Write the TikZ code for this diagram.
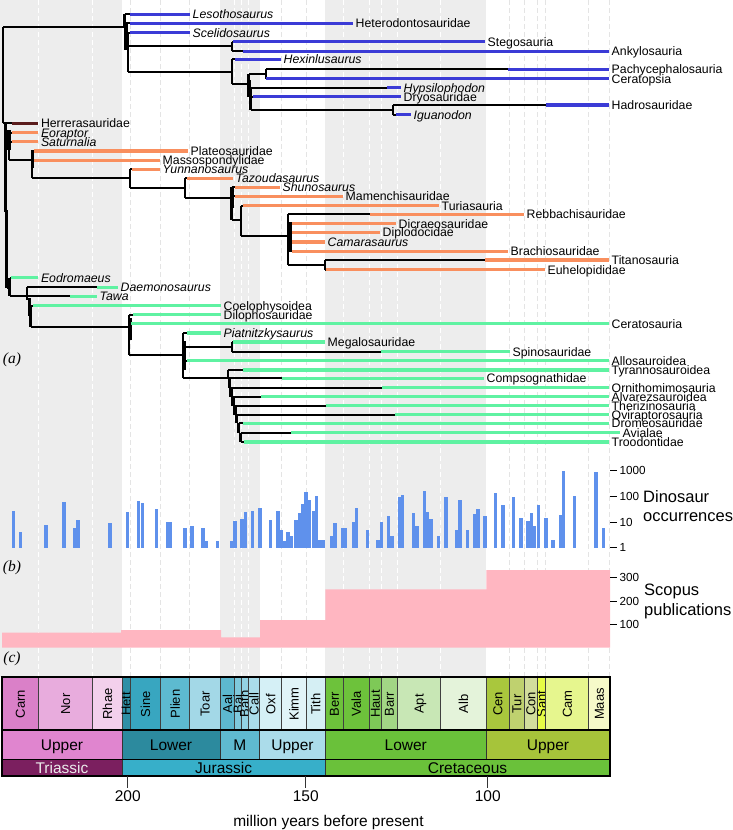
\documentclass[tikz,border=0pt]{standalone}
\usepackage{fontspec}
\setmainfont{Liberation Sans}
\newfontfamily\panelfont{Liberation Serif}
\definecolor{ornc}{HTML}{3B3BD6}
\definecolor{sauc}{HTML}{F98F5E}
\definecolor{herc}{HTML}{5A1C1C}
\definecolor{thec}{HTML}{5FF2A2}
\definecolor{barc}{HTML}{5F91EC}
\definecolor{pubc}{HTML}{FFB6C1}
\definecolor{bgg}{HTML}{EDEDED}
\definecolor{dashg}{HTML}{E4E4E4}
\tikzset{
  blk/.style={line width=2.2pt, black},
  thk/.style={line width=3.2pt, black},
  lab/.style={anchor=west, inner xsep=2.5pt, inner ysep=0pt, text height=8.8pt, text depth=0pt, font=\fontsize{12.3}{14}\selectfont},
  stglab/.style={rotate=90, inner sep=0pt, text height=9.3pt, text depth=0pt, font=\fontsize{13}{14}\selectfont},
  serlab/.style={inner sep=0pt, text height=11pt, text depth=0pt, font=\fontsize{15.5}{17}\selectfont},
  ticklab/.style={anchor=west, inner sep=0pt, font=\fontsize{11.7}{13}\selectfont},
  axlab/.style={inner sep=0pt, font=\fontsize{15.5}{17}\selectfont},
  bigl/.style={anchor=west, inner sep=0pt, font=\fontsize{16.5}{18}\selectfont},
  panl/.style={inner sep=0pt, font=\panelfont\itshape\fontsize{15.5}{17}\selectfont},
  gdash/.style={white, line width=0.7pt, dash pattern=on 5pt off 3pt},
  wdash/.style={dashg, line width=0.7pt, dash pattern=on 5pt off 3pt},
}
% tip: name, y, x start (black), x colour start, x end, colour, text
\newcommand\dtip[7]{%
  \draw[blk] (#3,#2) -- (#4,#2);
  \draw[line width=3.2pt, #6] (#4,#2) -- (#5,#2);
  \node[lab] (#1) at (#5,#2) {#7};
}
% stage: name, x0, x1, colour (HTML), text
\newcommand\stg[5]{%
  \definecolor{cellc}{HTML}{#4}%
  \filldraw[fill=cellc, draw=black!75, line width=0.6pt] (#2,676.7) rectangle (#3,730);
  \node[stglab] (#1) at ({(#2+#3)/2},704) {#5};
}
% box: name, x0, x1, y0, y1, colour (HTML), text
\newcommand\tsbox[7]{%
  \definecolor{cellc}{HTML}{#6}%
  \filldraw[fill=cellc, draw=black!80, line width=0.9pt] (#2,#4) rectangle (#3,#5);
  \node[serlab] (#1) at ({(#2+#3)/2},{(#4+#5)/2}) {#7};
}
\begin{document}
\begin{tikzpicture}[x=1pt,y=-1pt]
\useasboundingbox (0,0) rectangle (733,830);
% background bands
\fill[bgg] (0,0) rectangle (122,676.7);
\fill[bgg] (220,0) rectangle (259.7,676.7);
\fill[bgg] (325.3,0) rectangle (486.3,676.7);
\foreach \x in {38.3,92.7,234.7,241,248,343,369.3,381.3,397.3,440.7}
  \draw[gdash] (\x,0) -- (\x,676.7);
\foreach \x in {130,160.7,189.7,281.7,306,509.3,524.3,537,545.7,588.7,609.7}
  \draw[wdash] (\x,0) -- (\x,676.7);

% ---------- (b) occurrences ----------
\foreach \x/\t in {12.0/511, 19.0/532.3, 44.3/525, 62.3/502.3, 72.7/528, 76.3/520.3, 108.3/523.3, 126.0/512.3, 137.0/501, 140.7/502.7, 155.0/509.3, 165.7/522, 169.0/522, 183.3/527.7, 190.3/526.3, 201.3/528.3, 204.7/540.7, 215.7/540.7, 230/540.7, 233.3/521, 240.3/519.3, 243.7/512.3, 251/510.7, 258.3/508.3, 269/520, 276.3/510.7, 279.7/530, 283/540.7, 286.3/532.3, 289.7/536, 294.3/520, 297.7/513, 301/504.3, 304.3/492.3, 307.7/500, 311.7/511.3, 315/495.7, 318.3/540.3, 321.7/540.3, 330/535.7, 333.3/523.3, 340.7/528.3, 344/528.3, 351.7/522.3, 355/508, 365.7/530, 376.3/540.3, 379.7/522.3, 387/515.7, 390.3/536, 397.7/497.3, 401/495, 412/513.3, 415.3/526, 422.7/491, 426/511.7, 429.3/519.3, 437/535.7, 444.3/496.7, 455/530, 458.3/500.3, 465.7/530, 473/514, 476.3/508.7, 483.3/516, 494/493, 501.3/504.7, 512/497, 519.3/518.3, 526.3/521, 529.7/513, 533/526, 537/504.7, 544.3/517.7, 551.3/540.3, 558.7/514.7, 562/471, 573/496.3, 594.3/471.7, 601.7/528}
  \fill[barc] (\x,547.7) rectangle (\x+3.2,\t);
\foreach \y/\v/\n in {470/1000/ta, 496.7/100/tb, 522.3/10/tc, 547.7/1/td} {
  \draw[black, line width=0.8pt] (610,\y) -- (617,\y);
  \node[ticklab] (occ\n) at (619.5,\y) {\v};
}
\node[bigl] (dino1) at (643,496.7) {Dinosaur};
\node[bigl] (dino2) at (643,516.7) {occurrences};

% ---------- (c) publications ----------
\fill[pubc] (2,647.7) -- (2,632.7) -- (121,632.7) -- (121,630) -- (221,630) -- (221,637.3) -- (260,637.3) -- (260,620) -- (325.3,620) -- (325.3,589.3) -- (486.3,589.3) -- (486.3,570) -- (610,570) -- (610,647.7) -- cycle;
\foreach \y/\v/\n in {577.7/300/pa, 601.7/200/pb, 624.3/100/pc} {
  \draw[black, line width=0.8pt] (610,\y) -- (617,\y);
  \node[ticklab] (pub\n) at (619.5,\y) {\v};
}
\node[bigl] (scop1) at (644,591.7) {Scopus};
\node[bigl] (scop2) at (644,611.7) {publications};

% panel labels
\node[panl] (pa) at (12,360) {(a)};
\node[panl] (pb) at (12,568) {(b)};
\node[panl] (pc) at (12,659) {(c)};

% ---------- (a) tree: Ornithischia ----------
\draw[blk] (3,26.7) -- (124.5,26.7);
\draw[blk] (124.5,14.3) -- (124.5,26.7);
\draw[thk] (126,22) -- (126,50);
\draw[blk] (128,32.7) -- (128,71.7);
\draw[blk] (128,45.7) -- (232,45.7);
\draw[blk] (232,41.7) -- (232,51.3);
\draw[blk] (128,71.7) -- (232,71.7);
\draw[blk] (232,59.3) -- (232,84.3);
\draw[blk] (232,84.3) -- (248.5,84.3);
\draw[blk] (248.5,74.3) -- (248.5,96.7);
\draw[thk] (249.5,80) -- (249.5,97);
\draw[blk] (248.5,74.3) -- (266,74.3);
\draw[blk] (266,69.3) -- (266,78.7);
\draw[blk] (250.5,87.7) -- (250.5,110);
\draw[blk] (250.5,110) -- (393,110);
\draw[blk] (393,105) -- (393,114.7);
\dtip{lesotho}{14.3}{124.5}{130}{190}{ornc}{\itshape Lesothosaurus}
\dtip{hetero}{23.3}{124.5}{130}{353}{ornc}{Heterodontosauridae}
\dtip{scelido}{32.7}{126}{130}{190}{ornc}{\itshape Scelidosaurus}
\dtip{stego}{41.7}{232}{233}{485}{ornc}{Stegosauria}
\dtip{ankylo}{51.3}{232}{243}{609}{ornc}{Ankylosauria}
\dtip{hexin}{59.3}{232}{235}{281}{ornc}{\itshape Hexinlusaurus}
\dtip{pachy}{69.3}{266}{508}{609}{ornc}{Pachycephalosauria}
\dtip{ceratop}{78.7}{266}{266}{609}{ornc}{Ceratopsia}
\dtip{hypsi}{87.7}{250.5}{387}{401}{ornc}{\itshape Hypsilophodon}
\dtip{dryo}{96.7}{250.5}{253}{401}{ornc}{Dryosauridae}
\dtip{hadro}{105}{393}{546}{609}{ornc}{Hadrosauridae}
\dtip{iguano}{114.7}{393}{396}{411}{ornc}{\itshape Iguanodon}

% ---------- Saurischia trunk and Sauropodomorpha ----------
\draw[blk] (3,26.7) -- (3,123.3);
\draw[blk] (3,123.3) -- (5.5,123.3);
\draw[thk] (5.5,123.3) -- (5.5,212);
\draw[blk] (6.5,210) -- (6.5,288);
\draw[thk] (9,130) -- (9,150);
\draw[blk] (9,132.7) -- (9,160);
\draw[blk] (5.5,140) -- (9,140);
\dtip{herrera}{123.3}{3}{11.7}{38.3}{herc}{Herrerasauridae}
\dtip{eorap}{132.7}{9}{11.7}{38.3}{sauc}{\itshape Eoraptor}
\dtip{saturn}{141.7}{9}{11.7}{38.3}{sauc}{\itshape Saturnalia}
\draw[blk] (9,160) -- (31.7,160);
\draw[blk] (31.7,150.7) -- (31.7,178.3);
\draw[thk] (32.5,150) -- (32.5,168);
\dtip{plateo}{151}{31.7}{34}{188}{sauc}{Plateosauridae}
\dtip{massos}{160.3}{31.7}{34}{160}{sauc}{Massospondylidae}
\draw[blk] (31.7,178.3) -- (130,178.3);
\draw[blk] (130,169.3) -- (130,188.3);
\dtip{yunnan}{169.3}{130}{132}{160}{sauc}{\itshape Yunnanosaurus}
\draw[blk] (130,188.3) -- (185,188.3);
\draw[blk] (185,178.3) -- (185,198);
\dtip{tazou}{178.3}{185}{187}{233}{sauc}{\itshape Tazoudasaurus}
\draw[blk] (185,198) -- (231.5,198);
\draw[blk] (231.5,187.3) -- (231.5,220);
\draw[thk] (232.5,188) -- (232.5,208);
\dtip{shuno}{187.3}{231.5}{235}{280}{sauc}{\itshape Shunosaurus}
\dtip{mamen}{196.3}{231.5}{235}{343}{sauc}{Mamenchisauridae}
\draw[blk] (231.5,220) -- (241.3,220);
\draw[blk] (241.3,205.7) -- (241.3,236);
\dtip{turia}{205.7}{241.3}{243}{439}{sauc}{Turiasauria}
\draw[blk] (241.3,236) -- (288.3,236);
\draw[blk] (288.3,214.3) -- (288.3,265);
\draw[thk] (290,222) -- (290,252);
\dtip{rebba}{214.3}{288.3}{370}{524}{sauc}{Rebbachisauridae}
\dtip{dicra}{223.7}{288.3}{292}{396}{sauc}{Dicraeosauridae}
\dtip{diplo}{232.3}{288.3}{292}{380}{sauc}{Diplodocidae}
\dtip{camara}{242}{288.3}{292}{325}{sauc}{\itshape Camarasaurus}
\dtip{brachio}{251.3}{288.3}{292}{508}{sauc}{Brachiosauridae}
\draw[blk] (288.3,265) -- (325,265);
\draw[blk] (325,260) -- (325,269.7);
\dtip{titano}{260}{325}{485}{609}{sauc}{Titanosauria}
\dtip{euhelo}{269.7}{325}{326}{545}{sauc}{Euhelopididae}

% ---------- Theropoda ----------
\draw[blk] (6.5,288) -- (9.5,288);
\draw[blk] (9.5,277.7) -- (9.5,296.3);
\draw[blk] (27,287.3) -- (27,300);
\draw[thk] (29.5,298) -- (29.5,316);
\draw[blk] (30.5,305.7) -- (30.5,327.3);
\dtip{eodro}{277.7}{9.5}{11}{38.3}{thec}{\itshape Eodromaeus}
\dtip{daemo}{287.3}{27}{97}{118}{thec}{\itshape Daemonosaurus}
\dtip{tawa}{296.3}{9.5}{70}{97}{thec}{\itshape Tawa}
\dtip{coelo}{305.7}{30.5}{33}{221}{thec}{Coelophysoidea}
\draw[blk] (30.5,327.3) -- (129.3,327.3);
\draw[blk] (129.3,314.7) -- (129.3,355);
\draw[thk] (130,318) -- (130,340);
\dtip{dilo}{314.7}{129.3}{133}{221}{thec}{Dilophosauridae}
\dtip{ceratos}{323.7}{129.3}{131}{609}{thec}{Ceratosauria}
\draw[blk] (129.3,355) -- (183.3,355);
\draw[blk] (183.3,333) -- (183.3,378.3);
\draw[thk] (184,341) -- (184,370);
\dtip{piatn}{333}{183.3}{187}{221}{thec}{\itshape Piatnitzkysaurus}
\draw[blk] (183.3,347.3) -- (232,347.3);
\draw[blk] (232,342) -- (232,351.7);
\dtip{megalo}{342}{232}{233}{325}{thec}{Megalosauridae}
\dtip{spino}{351.7}{232}{381}{510}{thec}{Spinosauridae}
\dtip{allo}{360.7}{183.3}{187}{609}{thec}{Allosauroidea}
\draw[blk] (228.3,370) -- (228.3,378.3);
\draw[thk] (229.3,378.3) -- (229.3,387.7);
\draw[thk] (231,387.7) -- (231,396.7);
\draw[thk] (233,396.7) -- (233,405.7);
\draw[thk] (235,405.7) -- (235,414.7);
\draw[thk] (236.5,414.7) -- (236.5,423.3);
\draw[thk] (238.5,423.3) -- (238.5,432.7);
\draw[thk] (240.5,432.7) -- (240.5,442);
\dtip{tyranno}{370}{228.3}{243}{609}{thec}{Tyrannosauroidea}
\dtip{compso}{378.3}{183.3}{281.7}{484}{thec}{Compsognathidae}
\dtip{ornitho}{387.7}{231}{382}{609}{thec}{Ornithomimosauria}
\dtip{alvar}{396.7}{233}{261}{609}{thec}{Alvarezsauroidea}
\dtip{theriz}{405.7}{235}{326}{609}{thec}{Therizinosauria}
\dtip{ovira}{414.7}{236.5}{395}{609}{thec}{Oviraptorosauria}
\dtip{dromeo}{423.3}{238.5}{243}{609}{thec}{Dromeosauridae}
\dtip{avial}{432.7}{240.5}{291}{620}{thec}{Avialae}
\dtip{troodo}{442}{240.5}{244}{609}{thec}{Troodontidae}

% ---------- timescale ----------
\stg{carn}{2}{38.3}{DA80C8}{Carn}
\stg{nor}{38.3}{92.7}{E8ACDD}{Nor}
\stg{rhae}{92.7}{122}{F3D0EC}{Rhae}
\stg{hett}{122}{130}{2E8FA6}{Hett}
\stg{sine}{130}{160.7}{38A6C0}{Sine}
\stg{plien}{160.7}{189.7}{5DBAD0}{Plien}
\stg{toar}{189.7}{220}{A3D8E7}{Toar}
\stg{aal}{220}{234.7}{5DB8CF}{Aal}
\stg{baj}{234.7}{241}{7FC9DC}{Baj}
\stg{bath}{241}{248}{93D2E3}{Bath}
\stg{call}{248}{259.7}{AADCEA}{Call}
\stg{oxf}{259.7}{281.7}{D5F0F6}{Oxf}
\stg{kimm}{281.7}{306}{E1F4F8}{Kimm}
\stg{tith}{306}{325.3}{D5EFF4}{Tith}
\stg{berr}{325.3}{343}{6DC23B}{Berr}
\stg{vala}{343}{369.3}{6DC23B}{Vala}
\stg{haut}{369.3}{381.3}{7EC957}{Haut}
\stg{barr}{381.3}{397.3}{A2D685}{Barr}
\stg{apt}{397.3}{440.7}{C8E7B5}{Apt}
\stg{alb}{440.7}{486.3}{E4F3DA}{Alb}
\stg{cen}{486.3}{509.3}{A9C73D}{Cen}
\stg{tur}{509.3}{524.3}{BFD16F}{Tur}
\stg{con}{524.3}{537}{D2DD9C}{Con}
\stg{sant}{537}{545.7}{E6FC45}{Sant}
\stg{cam}{545.7}{588.7}{E6F68E}{Cam}
\stg{maas}{588.7}{609.7}{F6FAC9}{Maas}
\tsbox{uptri}{2}{122}{730}{759.3}{E085CF}{Upper}
\tsbox{lojur}{122}{220}{730}{759.3}{2C8A9E}{Lower}
\tsbox{mijur}{220}{259.7}{730}{759.3}{5FBAD0}{M}
\tsbox{upjur}{259.7}{325.3}{730}{759.3}{ABDCEA}{Upper}
\tsbox{locre}{325.3}{486.3}{730}{759.3}{6AC13A}{Lower}
\tsbox{upcre}{486.3}{609.7}{730}{759.3}{A6C43A}{Upper}
\tsbox{triassic}{2}{122}{759.3}{775.7}{7B1F5F}{\color{white!92!black}Triassic}
\tsbox{jurassic}{122}{325.3}{759.3}{775.7}{37AFC9}{Jurassic}
\tsbox{cretac}{325.3}{609.7}{759.3}{775.7}{6AC13A}{Cretaceous}
\draw[black, line width=1.3pt] (2,730) -- (609.7,730);
\draw[black, line width=1.3pt] (2,759.3) -- (609.7,759.3);
\draw[black, line width=1.8pt] (2,676.7) rectangle (609.7,775.7);

% axis
\foreach \x/\v/\n in {127.7/200/a, 305.7/150/b, 487.7/100/c} {
  \draw[black!80, line width=0.8pt] (\x,775.7) -- (\x,787.7);
  \node[axlab] (ax\n) at (\x,796) {\v};
}
\node[axlab] (axtitle) at (328.5,822) {million years before present};
\end{tikzpicture}
\end{document}
